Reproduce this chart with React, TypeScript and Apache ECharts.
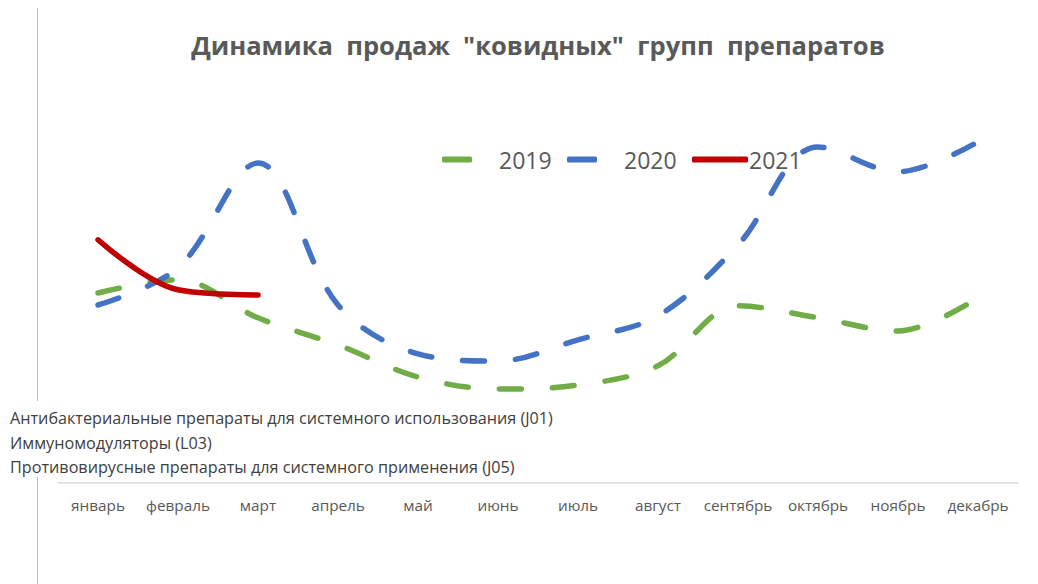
import React, { useEffect, useRef } from "react";
import * as echarts from "echarts";

const months = ["январь", "февраль", "март", "апрель", "май", "июнь", "июль", "август", "сентябрь", "октябрь", "ноябрь", "декабрь"];
const seriesNames = ["2019", "2020", "2021"];
const sales2019 = [47.5, 50.8, 41.3, 34.5, 26.5, 23.5, 24.5, 29.3, 44.3, 41.3, 38, 46.3];
const sales2020 = [44.5, 53.8, 80, 44.5, 32.3, 30.5, 35.8, 41.8, 59.5, 84, 77.8, 85.3];
const sales2021 = [60.8, 48.3, 47];
const groupNames = [
  "Антибактериальные препараты для системного использования (J01)",
  "Иммуномодуляторы (L03)",
  "Противовирусные препараты для системного применения (J05)",
];
const titleText = "Динамика  продаж  \"ковидных\"  групп  препаратов";

const FONT = "Open Sans";

export default function App() {
  const ref = useRef<HTMLDivElement>(null);
  useEffect(() => {
    if (!ref.current) return;
    const chart = echarts.init(ref.current, null, { renderer: "svg" });
    const dash = [22, 31];
    const legendBase = {
      top: 143,
      itemHeight: 6,
      textStyle: { fontSize: 23, color: "#595959", fontFamily: FONT },
      icon: "roundRect",
    };
    chart.setOption({
      animation: false,
      backgroundColor: "#ffffff",
      textStyle: { fontFamily: FONT },
      grid: { left: 58, right: 20, top: 83, bottom: 101, containLabel: false },
      legend: [
        { ...legendBase, data: [seriesNames[0]], left: 437, itemWidth: 30, textStyle: { ...legendBase.textStyle, padding: [0, 0, 0, 22] } },
        { ...legendBase, data: [seriesNames[1]], left: 562, itemWidth: 30, textStyle: { ...legendBase.textStyle, padding: [0, 0, 0, 22] } },
        { ...legendBase, data: [seriesNames[2]], left: 687, itemWidth: 56, textStyle: { ...legendBase.textStyle, padding: [0, 0, 0, -4] } },
      ],
      xAxis: {
        type: "category",
        data: months,
        boundaryGap: true,
        axisLine: { show: true, lineStyle: { color: "#d9d9d9", width: 1.5 } },
        axisTick: { show: false },
        axisLabel: { color: "#595959", fontSize: 15.3, margin: 14, fontFamily: FONT, interval: 0 },
        splitLine: { show: false },
      },
      yAxis: {
        type: "value",
        min: 0,
        max: 100,
        show: false,
        splitLine: { show: false },
      },
      series: [
        {
          name: seriesNames[0],
          type: "line",
          data: sales2019,
          smooth: 0.35,
          symbol: "none",
          z: 2,
          itemStyle: { color: "#70ad47" },
          lineStyle: { color: "#70ad47", width: 5.5, type: dash, cap: "round" },
        },
        {
          name: seriesNames[1],
          type: "line",
          data: sales2020,
          smooth: 0.35,
          symbol: "none",
          z: 3,
          itemStyle: { color: "#4472c4" },
          lineStyle: { color: "#4472c4", width: 5.5, type: dash, cap: "round" },
        },
        {
          name: seriesNames[2],
          type: "line",
          data: sales2021,
          smooth: 0.35,
          symbol: "none",
          z: 4,
          itemStyle: { color: "#c00000" },
          lineStyle: { color: "#c00000", width: 5.5, type: "solid", cap: "round" },
        },
      ],
      graphic: [
        {
          type: "line",
          shape: { x1: 37.5, y1: 8, x2: 37.5, y2: 584 },
          style: { stroke: "#bfbfbf", lineWidth: 1 },
          z: 0,
        },
        {
          type: "text",
          x: 538,
          y: 45,
          style: {
            text: titleText,
            fontSize: 25.6,
            fontWeight: "bold",
            fontFamily: FONT,
            fill: "#595959",
            textAlign: "center",
            textVerticalAlign: "middle",
          },
        },
        {
          type: "rect",
          shape: { x: 0, y: 401, width: 562, height: 76 },
          style: { fill: "#ffffff" },
          z: 10,
        },
        ...groupNames.map((t, i) => ({
          type: "text",
          x: 10,
          y: 418 + i * 24.5,
          z: 11,
          style: {
            text: t,
            fontSize: 16.2,
            fontFamily: FONT,
            fill: "#404040",
            textVerticalAlign: "middle",
          },
        })),
      ],
    });
    return () => chart.dispose();
  }, []);
  return <div ref={ref} style={{ position: "fixed", left: 0, top: 0, width: 1038, height: 584 }} />;
}
